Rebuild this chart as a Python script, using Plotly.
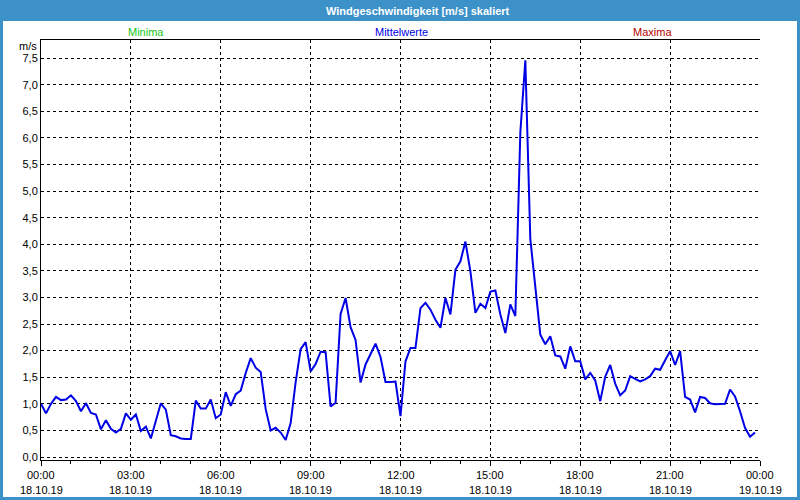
import plotly.graph_objects as go
import pandas as pd

# 10-minute mean wind speed values (m/s), 18.10.19 00:00 .. 23:50
speed = [
    1.00, 0.82, 1.00, 1.13, 1.07, 1.08, 1.16, 1.05, 0.86, 1.01, 0.83, 0.80,
    0.52, 0.69, 0.53, 0.46, 0.53, 0.82, 0.70, 0.80, 0.49, 0.57, 0.35, 0.67,
    1.01, 0.89, 0.41, 0.39, 0.35, 0.34, 0.34, 1.06, 0.91, 0.91, 1.08, 0.73,
    0.80, 1.22, 0.96, 1.18, 1.25, 1.58, 1.86, 1.68, 1.60, 0.90, 0.50, 0.55,
    0.46, 0.32, 0.64, 1.41, 2.03, 2.16, 1.61, 1.75, 1.98, 1.97, 0.95, 1.02,
    2.69, 2.99, 2.44, 2.20, 1.40, 1.74, 1.92, 2.13, 1.88, 1.41, 1.41, 1.42,
    0.77, 1.80, 2.05, 2.05, 2.80, 2.90, 2.77, 2.58, 2.43, 2.99, 2.68, 3.52,
    3.68, 4.05, 3.49, 2.71, 2.88, 2.80, 3.11, 3.13, 2.68, 2.33, 2.87, 2.65,
    6.10, 7.46, 4.10, 3.20, 2.30, 2.12, 2.27, 1.91, 1.89, 1.66, 2.08, 1.80,
    1.80, 1.46, 1.58, 1.44, 1.05, 1.51, 1.73, 1.38, 1.16, 1.25, 1.52, 1.47,
    1.42, 1.46, 1.52, 1.66, 1.64, 1.82, 1.99, 1.73, 1.99, 1.13, 1.08, 0.84,
    1.13, 1.11, 1.01, 0.99, 0.99, 1.00, 1.27, 1.14, 0.86, 0.55, 0.38, 0.46,
]
times = pd.date_range("2019-10-18 00:00", periods=len(speed), freq="10min")

tick_times = pd.date_range("2019-10-18 00:00", "2019-10-19 00:00", freq="3h")
tick_time_text = [t.strftime("%H:%M") for t in tick_times]
tick_date_text = [t.strftime("%d.%m.%y") for t in tick_times]
y_ticks = [i * 0.5 for i in range(16)]

title_text = "Windgeschwindigkeit [m/s] skaliert"
legend_items = [("Minima", "rgb(20,200,20)", 146), ("Mittelwerte", "rgb(0,0,230)", 401), ("Maxima", "rgb(180,0,0)", 652)]

W, H = 800, 500
L, R, T, B = 41, 40, 40, 40
pw, ph = W - L - R, H - T - B

def px(x):
    return (x - L) / pw

def py(y):
    return (H - B - y) / ph

FONT = "Liberation Sans, Arial, sans-serif"
BLUE = "rgb(60,145,200)"

fig = go.Figure()
fig.add_trace(go.Scatter(x=times, y=speed, mode="lines",
                         line=dict(color="rgb(0,0,230)", width=2),
                         hoverinfo="skip", showlegend=False))

fig.update_layout(
    width=W, height=H,
    margin=dict(l=L, r=R, t=T, b=B, autoexpand=False),
    paper_bgcolor=BLUE, plot_bgcolor="white",
    separators=",.",
    font=dict(family=FONT, size=11, color="black"),
    showlegend=False,
    xaxis=dict(
        range=[pd.Timestamp("2019-10-18 00:00"), pd.Timestamp("2019-10-19 00:00")],
        tickvals=list(tick_times), showticklabels=False,
        showgrid=True, gridcolor="black", griddash="3px,3px", gridwidth=1,
        showline=True, linecolor="black", linewidth=1, mirror=True,
        ticks="outside", ticklen=5, tickcolor="black",
        minor=dict(dtick=3600000, ticks="outside", ticklen=3, tickcolor="black", showgrid=False),
        zeroline=False, fixedrange=True, automargin=False,
    ),
    yaxis=dict(
        range=[-0.056, 7.84],
        tickvals=y_ticks, tickformat=".1f",
        showgrid=True, gridcolor="black", griddash="3px,3px", gridwidth=1,
        showline=True, linecolor="black", linewidth=1,
        ticks="", zeroline=False, fixedrange=True, automargin=False,
    ),
    shapes=[dict(type="rect", xref="paper", yref="paper", layer="below",
                 x0=px(3), x1=px(797), y0=py(497), y1=py(21),
                 fillcolor="white", line=dict(width=0))],
)

annotations = [
    dict(text="<b>" + title_text + "</b>", x=px(418), y=py(11), xref="paper", yref="paper",
         showarrow=False, xanchor="center", yanchor="middle",
         font=dict(family=FONT, size=11, color="white")),
    dict(text="m/s", x=px(28), y=py(46), xref="paper", yref="paper",
         showarrow=False, xanchor="center", yanchor="middle",
         font=dict(family=FONT, size=11, color="black")),
]
for name, col, cx in legend_items:
    annotations.append(dict(text=name, x=px(cx), y=py(32), xref="paper", yref="paper",
                            showarrow=False, xanchor="center", yanchor="middle",
                            font=dict(family=FONT, size=11, color=col)))
for t, s1, s2 in zip(tick_times, tick_time_text, tick_date_text):
    annotations.append(dict(text=s1, x=t, y=py(475), xref="x", yref="paper",
                            showarrow=False, xanchor="center", yanchor="middle",
                            font=dict(family=FONT, size=11, color="black")))
    annotations.append(dict(text=s2, x=t, y=py(490), xref="x", yref="paper",
                            showarrow=False, xanchor="center", yanchor="middle",
                            font=dict(family=FONT, size=11, color="black")))
fig.update_layout(annotations=annotations)

fig.write_html("out.html")
